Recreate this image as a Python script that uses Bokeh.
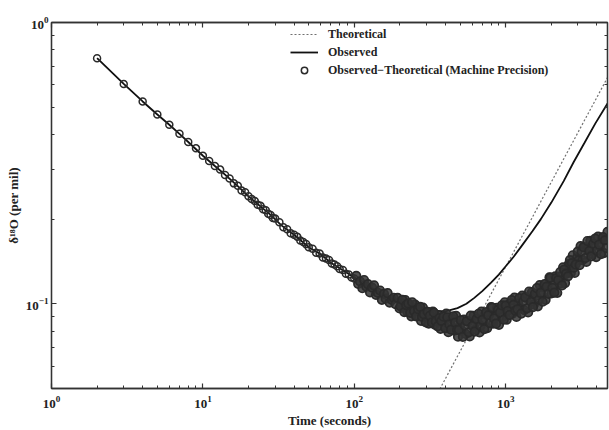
from bokeh.plotting import figure
from bokeh.models import (Range1d, FixedTicker, LogAxis, Legend, LegendItem,
                          CustomJSTickFormatter)
from bokeh.embed import file_html
from bokeh.resources import INLINE

# ---------------- data ----------------
x_major_ticks = [1, 10, 100, 1000]
x_minor_ticks = [2, 3, 4, 5, 6, 7, 8, 9, 20, 30, 40, 50, 60, 70, 80, 90,
                 200, 300, 400, 500, 600, 700, 800, 900, 2000, 3000, 4000]
y_major_ticks = [0.1, 1]
y_minor_ticks = [0.06, 0.07, 0.08, 0.09, 0.2, 0.3, 0.4, 0.5, 0.6, 0.7, 0.8, 0.9]

theo_t = [300, 500, 1000, 2000, 4700]
theo_y = [0.0407, 0.0678, 0.1355, 0.271, 0.637]

obs_t = [2, 3, 4, 5, 6, 7, 8, 10, 12, 14, 17, 20, 24, 28, 33, 40, 50, 60, 70, 85,
         100, 120, 150, 180, 220, 270, 330, 400, 480, 550, 620, 700, 800, 900, 1000,
         1128, 1300, 1500, 1706, 2000, 2414, 2800, 3300, 3900, 4700]
obs_y = [0.747, 0.605, 0.524, 0.471, 0.433, 0.402, 0.376, 0.336, 0.309, 0.288,
         0.262, 0.241, 0.222, 0.207, 0.190, 0.176, 0.159, 0.150, 0.140, 0.131,
         0.124, 0.117, 0.109, 0.104, 0.1005, 0.097, 0.0945, 0.094, 0.0965, 0.100,
         0.105, 0.111, 0.119, 0.127, 0.136, 0.147, 0.163, 0.181, 0.200, 0.229,
         0.273, 0.318, 0.372, 0.437, 0.515]

left_t = [2, 3, 4, 5, 6, 7, 8, 9, 10, 11, 12, 13, 14, 15, 16, 17, 18, 19, 20,
          21, 22, 23, 24, 25, 26, 27, 28, 29, 30, 32, 34, 36, 38, 40, 42, 44, 46,
          48, 50, 53, 56, 59, 62, 65, 68, 71, 74, 77, 80, 84, 88, 92, 96, 100]
left_y = [0.747, 0.605, 0.524, 0.471, 0.433, 0.402, 0.376, 0.357, 0.336,
          0.322, 0.309, 0.300, 0.287, 0.279, 0.268, 0.263, 0.253, 0.249, 0.241,
          0.236, 0.232, 0.225, 0.223, 0.217, 0.215, 0.209, 0.207, 0.202, 0.201,
          0.195, 0.187, 0.184, 0.178, 0.176, 0.173, 0.168, 0.166, 0.163, 0.159,
          0.157, 0.152, 0.151, 0.146, 0.145, 0.143, 0.139, 0.138, 0.136, 0.133,
          0.132, 0.128, 0.127, 0.124, 0.123]

band_t = [103, 106, 109, 113, 116, 120, 123, 127, 131, 135,
          139, 143, 148, 152, 157, 161, 166, 171, 177, 182,
          187, 193, 199, 205, 211, 217, 224, 231, 238, 245,
          252, 260, 268, 276, 284, 293, 301, 310, 320, 330,
          340, 350, 360, 371, 382, 394, 405, 418, 430, 443,
          457, 470, 484, 499, 514, 529, 545, 562, 578, 596,
          614, 632, 651, 671, 691, 712, 733, 755, 778, 801,
          825, 850, 876, 902, 929, 957, 985, 1015, 1045, 1077,
          1109, 1142, 1177, 1212, 1248, 1286, 1324, 1364, 1405, 1447,
          1491, 1535, 1581, 1629, 1678, 1728, 1780, 1833, 1888, 1945,
          2003, 2063, 2125, 2189, 2255, 2322, 2392, 2464, 2538, 2614,
          2692, 2773, 2856, 2942, 3030, 3121, 3215, 3311, 3411, 3513,
          3618, 3727, 3839, 3954, 4072, 4195, 4320, 4450, 4583, 4700]
band_y = [0.1257, 0.1178, 0.1201, 0.1136, 0.1215, 0.1151, 0.1174, 0.1098, 0.1142, 0.1162,
          0.1076, 0.1093, 0.1115, 0.1033, 0.1084, 0.1043, 0.1091, 0.1010, 0.1033, 0.1050,
          0.0998, 0.1050, 0.0963, 0.1006, 0.0970, 0.1031, 0.0936, 0.0993, 0.0903, 0.0963,
          0.0994, 0.0906, 0.0939, 0.0870, 0.0969, 0.0900, 0.0932, 0.0850, 0.0906, 0.0938,
          0.0844, 0.0871, 0.0908, 0.0815, 0.0884, 0.0837, 0.0923, 0.0793, 0.0847, 0.0886,
          0.0803, 0.0906, 0.0764, 0.0841, 0.0802, 0.0879, 0.0781, 0.0864, 0.0766, 0.0854,
          0.0907, 0.0810, 0.0867, 0.0791, 0.0938, 0.0862, 0.0919, 0.0820, 0.0916, 0.0974,
          0.0850, 0.0901, 0.0968, 0.0842, 0.0956, 0.0899, 0.1013, 0.0879, 0.0950, 0.1006,
          0.0923, 0.1052, 0.0898, 0.1001, 0.0966, 0.1070, 0.0950, 0.1050, 0.0932, 0.1040,
          0.1101, 0.0995, 0.1068, 0.0980, 0.1166, 0.1076, 0.1154, 0.1033, 0.1161, 0.1241,
          0.1088, 0.1160, 0.1252, 0.1094, 0.1250, 0.1184, 0.1348, 0.1185, 0.1295, 0.1387,
          0.1289, 0.1488, 0.1287, 0.1455, 0.1426, 0.1603, 0.1429, 0.1584, 0.1409, 0.1574,
          0.1675, 0.1501, 0.1606, 0.1466, 0.1734, 0.1593, 0.1700, 0.1515, 0.1693, 0.1801]

band2_t = [202, 208, 214, 220, 227, 234, 241, 248, 256, 264,
           272, 280, 288, 297, 305, 315, 325, 335, 345, 355,
           365, 376, 388, 399, 411, 424, 436, 450, 463, 477,
           491, 506, 521, 537, 553, 570, 587, 605, 623, 641,
           661, 681, 701, 722, 744, 766, 789, 813, 837, 863,
           889, 915, 943, 971, 1000, 1030, 1061, 1093, 1125, 1159,
           1194, 1230, 1267, 1305, 1344, 1384, 1426, 1469, 1513, 1558,
           1605, 1653, 1703, 1754, 1806, 1860, 1916, 1974, 2033, 2094,
           2157, 2222, 2288, 2357, 2428, 2501, 2576, 2653, 2732, 2814,
           2899, 2986, 3075, 3168, 3263, 3361, 3462, 3565, 3672, 3783,
           3896, 4013, 4133, 4257, 4385, 4516, 4641]
band2_y = [0.0980, 0.1033, 0.0935, 0.0990, 0.1003, 0.0929, 0.1013, 0.0942, 0.0902, 0.0957,
           0.0975, 0.0898, 0.0918, 0.0859, 0.0937, 0.0907, 0.0859, 0.0931, 0.0866, 0.0832,
           0.0892, 0.0870, 0.0900, 0.0820, 0.0896, 0.0845, 0.0809, 0.0902, 0.0858, 0.0808,
           0.0808, 0.0874, 0.0763, 0.0837, 0.0868, 0.0792, 0.0908, 0.0835, 0.0797, 0.0883,
           0.0922, 0.0835, 0.0877, 0.0813, 0.0934, 0.0910, 0.0854, 0.0970, 0.0888, 0.0850,
           0.0952, 0.0931, 0.0987, 0.0878, 0.0988, 0.0943, 0.0913, 0.1030, 0.0992, 0.0945,
           0.0956, 0.1047, 0.0923, 0.1019, 0.1056, 0.0964, 0.1106, 0.1016, 0.0973, 0.1086,
           0.1137, 0.1036, 0.1093, 0.1017, 0.1174, 0.1150, 0.1085, 0.1239, 0.1140, 0.1096,
           0.1234, 0.1213, 0.1296, 0.1163, 0.1323, 0.1278, 0.1252, 0.1429, 0.1394, 0.1344,
           0.1380, 0.1533, 0.1373, 0.1530, 0.1590, 0.1455, 0.1672, 0.1541, 0.1474, 0.1635,
           0.1706, 0.1546, 0.1622, 0.1502, 0.1726, 0.1681, 0.1578]

dense_t = band_t + band2_t
dense_y = band_y + band2_y

# ---------------- figure ----------------
FONT = "Liberation Serif"
AX = "#333333"

p = figure(width=609, height=430, x_axis_type="log", y_axis_type="log",
           x_range=Range1d(1, 4700), y_range=Range1d(0.05, 1),
           output_backend="svg", toolbar_location=None,
           min_border_left=51, min_border_right=2, min_border_top=22,
           min_border_bottom=38, background_fill_color="white",
           border_fill_color="white", outline_line_color=AX,
           outline_line_width=1.3)
p.xgrid.visible = False
p.ygrid.visible = False

r_theo = p.line(theo_t, theo_y, line_color="#707070", line_width=1.2,
                line_dash="2 2")
r_obs = p.line(obs_t, obs_y, line_color="#111111", line_width=1.8)
r_circ = p.scatter(left_t, left_y, marker="circle", size=7,
                   fill_alpha=0, line_color="#2a2a2a", line_width=1.5)
r_dense = p.scatter(dense_t, dense_y, marker="circle", size=8.5,
                    fill_color="#333333", fill_alpha=0.85,
                    line_color="#2a2a2a", line_width=1.7)

def style_axis(ax):
    ax.major_tick_in = 5
    ax.major_tick_out = 0
    ax.minor_tick_in = 3
    ax.minor_tick_out = 0
    ax.axis_line_color = AX
    ax.axis_line_width = 1.3
    ax.major_tick_line_color = AX
    ax.minor_tick_line_color = AX
    ax.major_tick_line_width = 1.2
    ax.minor_tick_line_width = 1.0
    ax.major_label_text_font = FONT
    ax.major_label_text_font_style = "bold"
    ax.major_label_text_font_size = "13px"
    ax.major_label_text_color = "#222222"
    ax.axis_label_text_font = FONT
    ax.axis_label_text_font_style = "bold"
    ax.axis_label_text_font_size = "13px"
    ax.axis_label_text_color = "#222222"

xt = FixedTicker(ticks=x_major_ticks, minor_ticks=x_minor_ticks)
yt = FixedTicker(ticks=y_major_ticks, minor_ticks=y_minor_ticks)

for ax in p.xaxis:
    ax.ticker = xt
    style_axis(ax)
    ax.axis_label = "Time (seconds)"
    ax.major_label_standoff = 7
    ax.axis_label_standoff = 2
for ax in p.yaxis:
    ax.ticker = yt
    style_axis(ax)
    ax.axis_label = "δ¹⁸O (per mil)"
    ax.major_label_standoff = 3
    ax.axis_label_standoff = 2

blank = CustomJSTickFormatter(code="return ''")
top = LogAxis(ticker=FixedTicker(ticks=x_major_ticks, minor_ticks=x_minor_ticks),
              formatter=blank)
style_axis(top)
top.major_label_standoff = 0
p.add_layout(top, "above")
right = LogAxis(ticker=FixedTicker(ticks=y_major_ticks, minor_ticks=y_minor_ticks),
                formatter=blank)
style_axis(right)
right.major_label_standoff = 0
p.add_layout(right, "right")

legend = Legend(items=[
    LegendItem(label="Theoretical", renderers=[r_theo]),
    LegendItem(label="Observed", renderers=[r_obs]),
    LegendItem(label="Observed−Theoretical (Machine Precision)", renderers=[r_circ]),
], location=(239, 310), border_line_alpha=0, background_fill_alpha=0,
   label_text_font=FONT, label_text_font_style="bold",
   label_text_font_size="12px", label_text_color="#222222",
   glyph_width=28, glyph_height=16, label_height=16, spacing=2,
   padding=0, margin=0, label_standoff=10)
p.add_layout(legend, "center")

open("out.html", "w").write(file_html(p, INLINE))
